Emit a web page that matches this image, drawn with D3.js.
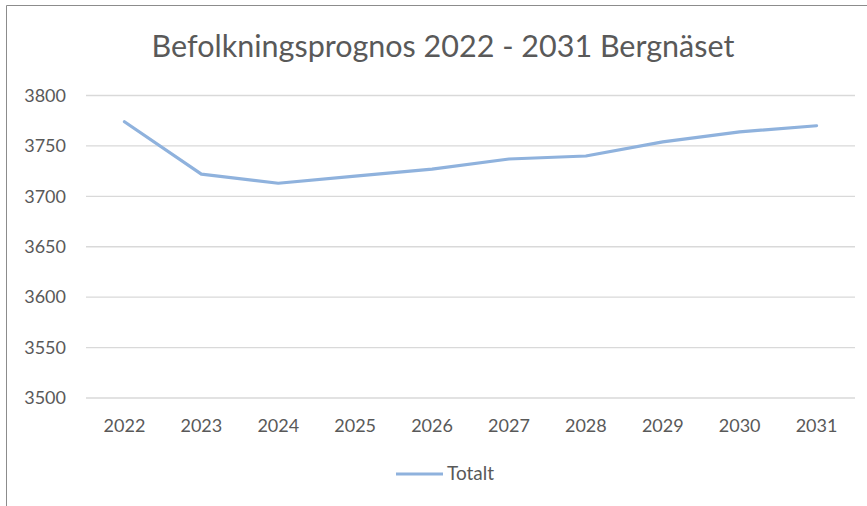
<!DOCTYPE html>
<html lang="en">
<head>
<meta charset="UTF-8">
<title>Befolkningsprognos</title>
<script src="https://d3js.org/d3.v7.min.js"></script>
<style type="text/css">
    body { margin: 0; background: #fff; }
    text { font-family: Lato, "Open Sans", sans-serif; fill: #595959; }
</style>
</head>
<body>
<div id="svgDiv"></div>
<script type="text/javascript">

    // chart data
    var years = ["2022", "2023", "2024", "2025", "2026", "2027", "2028", "2029", "2030", "2031"];
    var totalt = [3774, 3722, 3713, 3720, 3727, 3737, 3740, 3754, 3764, 3770];
    var yTicks = [3500, 3550, 3600, 3650, 3700, 3750, 3800];
    var titleText = "Befolkningsprognos 2022 - 2031 Bergnäset";
    var seriesName = "Totalt";

    var svgWidth = 867, svgHeight = 506;
    var plotLeft = 86, plotRight = 855, plotTop = 95.5, plotBottom = 398;

    var svg = d3.select("#svgDiv")
        .append("svg")
        .attr("width", svgWidth)
        .attr("height", svgHeight);

    // chart area border (only left and top visible in the picture)
    svg.append("path")
        .attr("d", "M6.5," + svgHeight + "V5.5H" + svgWidth)
        .attr("fill", "none")
        .attr("stroke", "#8c8c8c")
        .attr("stroke-width", 1);

    var x = d3.scaleBand()
        .domain(years)
        .range([plotLeft, plotRight]);

    var y = d3.scaleLinear()
        .domain([3500, 3800])
        .range([plotBottom, plotTop]);

    // gridlines
    svg.append("g")
        .selectAll("line")
        .data(yTicks)
        .enter().append("line")
        .attr("x1", plotLeft)
        .attr("x2", plotRight)
        .attr("y1", function(d){ return y(d); })
        .attr("y2", function(d){ return y(d); })
        .attr("stroke", "#d9d9d9")
        .attr("stroke-width", 1.3);

    // y axis labels
    var yAxis = d3.axisLeft(y).tickValues(yTicks).tickFormat(d3.format("d")).tickSize(0).tickPadding(0);
    var gy = svg.append("g")
        .attr("transform", "translate(66,0)")
        .call(yAxis);
    gy.select(".domain").remove();
    gy.selectAll("text")
        .attr("font-size", "18px")
        .style("font-family", "Lato, 'Open Sans', sans-serif")
        .attr("fill", "#595959");

    // x axis labels
    var xAxis = d3.axisBottom(x).tickSize(0).tickPadding(0);
    var gx = svg.append("g")
        .attr("transform", "translate(0,419)")
        .call(xAxis);
    gx.select(".domain").remove();
    gx.selectAll("text")
        .attr("font-size", "18px")
        .style("font-family", "Lato, 'Open Sans', sans-serif")
        .attr("fill", "#595959");

    // series line
    var line = d3.line()
        .x(function(d, i){ return x(years[i]) + x.bandwidth() / 2; })
        .y(function(d){ return y(d); });

    svg.append("path")
        .datum(totalt)
        .attr("d", line)
        .attr("fill", "none")
        .attr("stroke", "#8fb2dd")
        .attr("stroke-width", 3.2)
        .attr("stroke-linejoin", "round")
        .attr("stroke-linecap", "round");

    // title
    svg.append("text")
        .attr("x", 443)
        .attr("y", 57)
        .attr("text-anchor", "middle")
        .attr("font-size", "30.5px")
        .text(titleText);

    // legend
    svg.append("line")
        .attr("x1", 396).attr("x2", 443)
        .attr("y1", 474).attr("y2", 474)
        .attr("stroke", "#8fb2dd")
        .attr("stroke-width", 3.2);

    svg.append("text")
        .attr("x", 447)
        .attr("y", 480)
        .attr("font-size", "19px")
        .text(seriesName);

</script>
</body>
</html>
